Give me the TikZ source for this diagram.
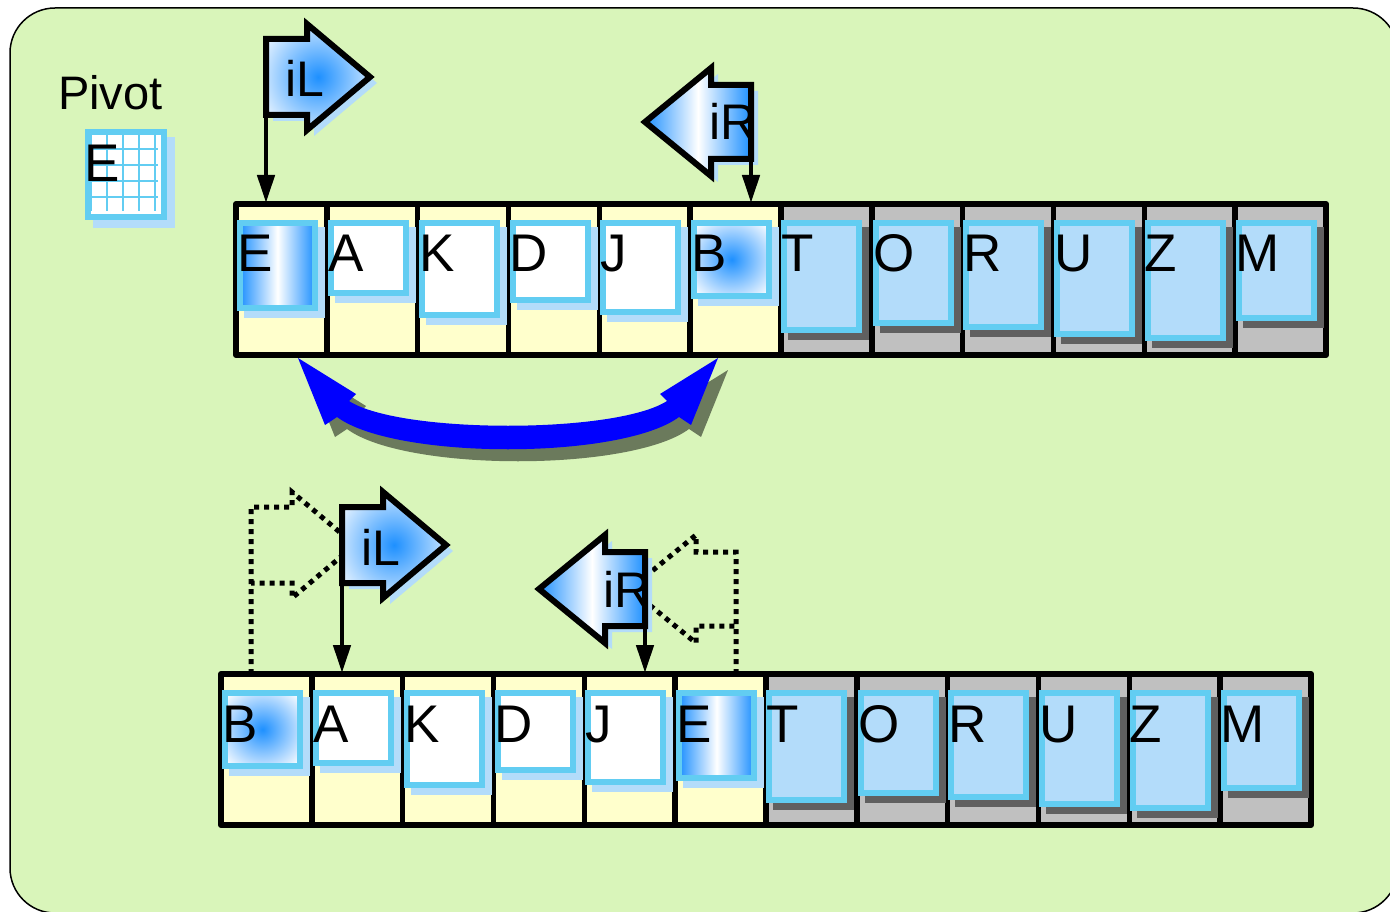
\documentclass[tikz,border=0pt]{standalone}
\usepackage{fontspec}
\setmainfont{Liberation Sans}
\usetikzlibrary{arrows.meta}
\definecolor{bggreen}{RGB}{217,245,186}
\definecolor{cellyellow}{RGB}{255,255,204}
\definecolor{cellgray}{RGB}{192,192,192}
\definecolor{darkshadow}{RGB}{96,96,96}
\definecolor{cardcyan}{RGB}{98,205,242}
\definecolor{lightblue}{RGB}{179,220,250}
\definecolor{gblue}{RGB}{30,144,255}
\definecolor{olive}{RGB}{107,122,92}
\definecolor{swapblue}{RGB}{0,0,255}
\pgfdeclareradialshading{bigradial}{\pgfpoint{0bp}{0bp}}{color(0bp)=(gblue); color(34bp)=(white); color(50bp)=(white)}
\tikzset{
  cardbox/.style={rectangle, draw=cardcyan, line width=6pt, inner sep=0pt, minimum width=75pt, anchor=north west},
  lettr/.style={font=\fontsize{53}{60}\selectfont, inner sep=0pt, anchor=base west},
  flagtxt/.style={font=\fontsize{50}{60}\selectfont, inner sep=0pt, anchor=base west},
  flagline/.style={draw=black, line width=6pt, line join=miter},
  stemline/.style={line width=4.5pt, -{Triangle[width=17pt,length=28pt]}},
  oldflag/.style={line width=5pt, dash pattern=on 5pt off 5pt},
  framebox/.style={line width=6pt, line join=round},
  whitecard/.style={fill=white},
  bluecard/.style={fill=lightblue},
  linshade/.style={left color=gblue, right color=gblue, middle color=white},
  radshade/.style={shading=bigradial},
}
\newcommand\mkcard[7]{%
  \fill[#7] (#2+10,#3+10) rectangle (#2+91,#3+10+#4);
  \node[cardbox,#5,minimum height=#4-6] (#1) at (#2+3,#3+3) {};
  \node[lettr] (#1t) at (#2+3,#3+55) {#6};
}
\newcommand\mkarray[2]{%
  \foreach \i in {0,...,5} \fill[cellyellow] (#1+\i*90.8333,#2) rectangle ++(90.8333,151);
  \foreach \i in {6,...,11} \fill[cellgray] (#1+\i*90.8333,#2) rectangle ++(90.8333,151);
  \foreach \i in {1,...,11} \draw[line width=5.5pt] (#1+\i*90.8333,#2) -- ++(0,151);
  \draw[framebox] (#1,#2) rectangle ++(1090,151);
}
\newcommand\flagR[5]{%
  \begin{scope}[shift={(#2,#3)}]
    \fill[lightblue] (7,-32) -- (48,-32) -- (48,-47) -- (111,6) -- (48,59) -- (48,44) -- (7,44) -- cycle;
    \path[flagline,#4] (0,-38) -- (41,-38) -- (41,-53) -- (104,0) -- (41,53) -- (41,38) -- (0,38) -- cycle;
    \node[flagtxt] (#1) at (19,20) {#5};
    \coordinate (#1foot) at (0,38);
  \end{scope}
}
\newcommand\flagL[5]{%
  \begin{scope}[shift={(#2,#3)}]
    \fill[lightblue] (7,-31) -- (-33,-31) -- (-33,-48) -- (-99,6) -- (-33,60) -- (-33,43) -- (7,43) -- cycle;
    \path[flagline,#4] (0,-37) -- (-40,-37) -- (-40,-54) -- (-106,0) -- (-40,54) -- (-40,37) -- (0,37) -- cycle;
    \node[flagtxt] (#1) at (-42,18) {#5};
    \coordinate (#1foot) at (0,37);
  \end{scope}
}
\begin{document}
\begin{tikzpicture}[x=1pt,y=-1pt]
\useasboundingbox (0,0) rectangle (1390,912);
% background
\draw[fill=bggreen, line width=1.5pt, rounded corners=45pt] (10,8) rectangle (1398,913);

% pivot
\node[font=\fontsize{47}{56}\selectfont, inner sep=0pt, anchor=base west] (pivotlbl) at (58,110) {Pivot};
\fill[lightblue] (93,137) rectangle (175,228);
\node[rectangle, draw=cardcyan, line width=6pt, fill=white, minimum width=76pt, minimum height=85pt, anchor=north west, inner sep=0pt] (pivotbox) at (85,129) {};
\draw[cardcyan, line width=2.5pt]
  (91,132) -- (91,211) (107,132) -- (107,211) (123,132) -- (123,211) (139,132) -- (139,211) (155,132) -- (155,211)
  (88,149) -- (158,149) (88,165) -- (158,165) (88,181) -- (158,181) (88,197) -- (158,197);
\node[lettr] (pivotE) at (84,182) {E};

% top array
\mkarray{236}{204}
\mkcard{tE}{234}{217}{91}{linshade}{E}{lightblue}
\mkcard{tA}{325}{217}{76}{whitecard}{A}{lightblue}
\mkcard{tK}{416}{217}{98}{whitecard}{K}{lightblue}
\mkcard{tD}{506.5}{217}{83}{whitecard}{D}{lightblue}
\mkcard{tJ}{597.3}{217}{95}{whitecard}{J}{lightblue}
\mkcard{tB}{688.2}{217}{79}{radshade}{B}{lightblue}
\mkcard{tT}{778}{217}{113}{bluecard}{T}{darkshadow}
\mkcard{tO}{869.8}{217}{106}{bluecard}{O}{darkshadow}
\mkcard{tR}{960}{217}{110}{bluecard}{R}{darkshadow}
\mkcard{tU}{1051}{217}{117}{bluecard}{U}{darkshadow}
\mkcard{tZ}{1141.5}{217}{121}{bluecard}{Z}{darkshadow}
\mkcard{tM}{1232.5}{217}{101}{bluecard}{M}{darkshadow}

% top flags
\coordinate (tgtL) at (266,203);
\coordinate (tgtR) at (751,203);
\flagR{tiL}{266}{77}{radshade}{iL}
\flagL{tiR}{751}{122}{linshade}{iR}
\draw[stemline] (tiLfoot) -- (tgtL);
\draw[stemline] (tiRfoot) -- (tgtR);

% swap arrow
\fill[olive, shift={(10,12)}] (298,358) -- (356,394) -- (349,401) .. controls (400,434) and (616,434) .. (667,401) -- (660,394) -- (718,358) -- (691,425) -- (679,417) .. controls (621,460) and (395,460) .. (337,417) -- (325,425) -- cycle;
\fill[swapblue] (298,358) -- (356,394) -- (349,401) .. controls (400,434) and (616,434) .. (667,401) -- (660,394) -- (718,358) -- (691,425) -- (679,417) .. controls (621,460) and (395,460) .. (337,417) -- (325,425) -- cycle;

% bottom array
\mkarray{221}{674}
\mkcard{bB}{219}{687}{79}{radshade}{B}{lightblue}
\mkcard{bA}{310}{687}{76}{whitecard}{A}{lightblue}
\mkcard{bK}{401}{687}{98}{whitecard}{K}{lightblue}
\mkcard{bD}{491.5}{687}{83}{whitecard}{D}{lightblue}
\mkcard{bJ}{582.3}{687}{95}{whitecard}{J}{lightblue}
\mkcard{bE}{673.2}{687}{91}{linshade}{E}{lightblue}
\mkcard{bT}{763}{687}{113}{bluecard}{T}{darkshadow}
\mkcard{bO}{854.8}{687}{106}{bluecard}{O}{darkshadow}
\mkcard{bR}{945}{687}{110}{bluecard}{R}{darkshadow}
\mkcard{bU}{1036}{687}{117}{bluecard}{U}{darkshadow}
\mkcard{bZ}{1126.5}{687}{121}{bluecard}{Z}{darkshadow}
\mkcard{bM}{1217.5}{687}{101}{bluecard}{M}{darkshadow}

% old (dotted) flag positions
\begin{scope}[shift={(251,545)}]
  \draw[oldflag] (0,129) -- (0,-38) -- (41,-38) -- (41,-53) -- (104,0) -- (41,53) -- (41,38) -- (0,38);
\end{scope}
\begin{scope}[shift={(736,589)}]
  \draw[oldflag] (0,85) -- (0,-37) -- (-40,-37) -- (-40,-54) -- (-106,0) -- (-40,54) -- (-40,37) -- (0,37);
\end{scope}

% bottom flags
\coordinate (btgtL) at (342,673);
\coordinate (btgtR) at (645,673);
\flagR{biL}{342}{545}{radshade}{iL}
\flagL{biR}{645}{589}{linshade}{iR}
\draw[stemline] (biLfoot) -- (btgtL);
\draw[stemline] (biRfoot) -- (btgtR);
\end{tikzpicture}
\end{document}
